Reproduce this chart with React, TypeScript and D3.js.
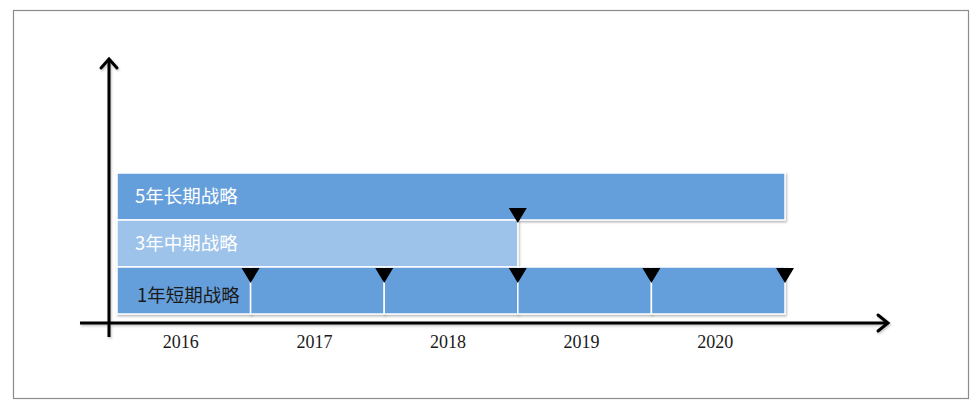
import { useRef, useEffect } from 'react'
import * as d3 from 'd3'

// data
const years = ['2016', '2017', '2018', '2019', '2020']
const strategyNames = ['5年长期战略', '3年中期战略', '1年短期战略']
const strategySpans = [5, 3, 1] // years per segment
const strategyCoverage = [5, 3, 5] // years covered from 2016
const strategyColors = ['#659fdb', '#9ec3ea', '#659fdb']
const labelColors = ['#ffffff', '#ffffff', '#1a1a1a']
const showMarkers = [false, true, true]

const W = 979
const H = 411

export default function App() {
  const ref = useRef<SVGSVGElement>(null)

  useEffect(() => {
    const svg = d3.select(ref.current)
    svg.selectAll('*').remove()

    const defs = svg.append('defs')
    const sh = defs.append('filter').attr('id', 'shadow')
      .attr('x', '-10%').attr('y', '-10%').attr('width', '120%').attr('height', '130%')
    sh.append('feDropShadow')
      .attr('dx', 1).attr('dy', 1.5).attr('stdDeviation', 1.2)
      .attr('flood-color', '#000').attr('flood-opacity', 0.3)
    const ash = defs.append('filter').attr('id', 'ashadow')
      .attr('x', '-10%').attr('y', '-10%').attr('width', '120%').attr('height', '130%')
    ash.append('feDropShadow')
      .attr('dx', 1).attr('dy', 1.5).attr('stdDeviation', 1)
      .attr('flood-color', '#000').attr('flood-opacity', 0.25)

    // frame
    svg.append('rect')
      .attr('x', 13.5).attr('y', 10.5)
      .attr('width', 955).attr('height', 388)
      .attr('fill', '#fff')
      .attr('stroke', '#8c8c8c').attr('stroke-width', 1.2)

    const x = d3.scaleBand().domain(years).range([117, 785]).padding(0)
    const y = d3.scaleBand().domain(strategyNames).range([173, 314]).padding(0)
    const bw = x.bandwidth()
    const x0 = x(years[0])!

    // axes
    const axisG = svg.append('g').attr('filter', 'url(#ashadow)')
    axisG.append('line')
      .attr('x1', 109).attr('y1', 337).attr('x2', 109).attr('y2', 60)
      .attr('stroke', '#000').attr('stroke-width', 3)
    axisG.append('path')
      .attr('d', 'M101,68 L109,59 L117,68')
      .attr('fill', 'none').attr('stroke', '#000').attr('stroke-width', 3)
      .attr('stroke-linecap', 'round').attr('stroke-linejoin', 'miter')
    axisG.append('line')
      .attr('x1', 80).attr('y1', 323).attr('x2', 888).attr('y2', 323)
      .attr('stroke', '#000').attr('stroke-width', 3)
    axisG.append('path')
      .attr('d', 'M878,315 L888,323 L878,331')
      .attr('fill', 'none').attr('stroke', '#000').attr('stroke-width', 3)
      .attr('stroke-linecap', 'round')

    // bars
    const barsG = svg.append('g')
    strategyNames.forEach((name, i) => {
      const y0 = y(name)!
      const rh = y.bandwidth()
      const n = Math.round(strategyCoverage[i] / strategySpans[i])
      for (let k = 0; k < n; k++) {
        const sx = x0 + k * strategySpans[i] * bw
        barsG.append('rect')
          .attr('x', sx).attr('y', y0)
          .attr('width', strategySpans[i] * bw).attr('height', rh)
          .attr('fill', strategyColors[i])
          .attr('stroke', '#fff').attr('stroke-width', 1.5)
          .attr('filter', 'url(#shadow)')
      }
    })

    // markers
    strategyNames.forEach((name, i) => {
      if (!showMarkers[i]) return
      const y0 = y(name)!
      const n = Math.round(strategyCoverage[i] / strategySpans[i])
      const top = i === 1 ? y0 - 12 : y0 + 1
      for (let k = 0; k < n; k++) {
        const ex = x0 + (k + 1) * strategySpans[i] * bw
        svg.append('path')
          .attr('d', `M${ex - 9},${top} L${ex + 9},${top} L${ex},${top + 15} Z`)
          .attr('fill', '#000')
      }
    })

    // row labels
    strategyNames.forEach((name, i) => {
      const y0 = y(name)!
      svg.append('text')
        .attr('x', x0 + (i === 2 ? 20 : 18))
        .attr('y', y0 + y.bandwidth() / 2 + (i === 2 ? 5 : 0))
        .attr('dy', '0.36em')
        .attr('fill', labelColors[i])
        .attr('font-family', '"Noto Sans CJK SC", "Noto Sans", sans-serif')
        .attr('font-size', 18.5)
        .text(name)
    })

    // year labels
    svg.append('g').selectAll('text')
      .data(years)
      .enter()
      .append('text')
      .attr('x', d => x(d)! + bw / 2 - 3)
      .attr('y', 342)
      .attr('dy', '0.35em')
      .attr('text-anchor', 'middle')
      .attr('font-family', '"Liberation Serif", "DejaVu Serif", serif')
      .attr('font-size', 18)
      .attr('fill', '#1a1a1a')
      .text(d => d)
  }, [])

  return (
    <div style={{ position: 'fixed', left: 0, top: 0, width: W, height: H, background: '#fff' }}>
      <svg ref={ref} width={W} height={H} />
    </div>
  )
}
